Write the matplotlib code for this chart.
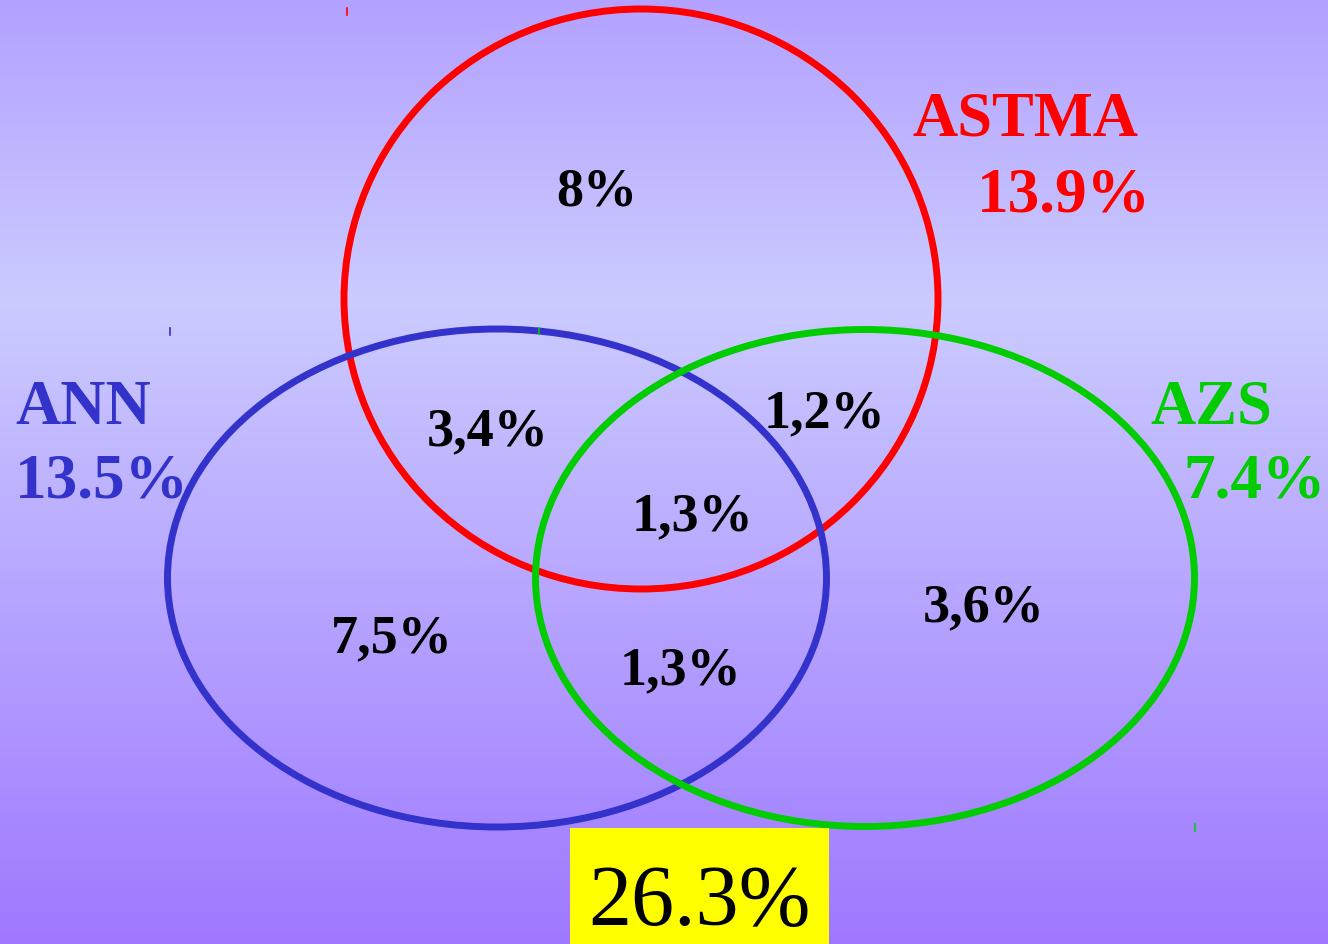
import numpy as np
import matplotlib.pyplot as plt
from matplotlib.patches import Ellipse, Rectangle
from matplotlib.colors import LinearSegmentedColormap

# sets: name, total share, colour
set_names = ["ASTMA", "ANN", "AZS"]
set_totals = ["13.9%", "13.5%", "7.4%"]
set_colors = ["#ff0000", "#3333cc", "#00cc00"]

# region shares (Venn regions)
region_labels = ["8%", "3,4%", "1,2%", "1,3%", "7,5%", "1,3%", "3,6%"]
overall = "26.3%"

W, H = 1328, 945
fig = plt.figure(figsize=(W / 100, H / 100), dpi=100)
ax = fig.add_axes([0, 0, 1, 1])
ax.set_xlim(0, W)
ax.set_ylim(H, 0)
ax.axis("off")

# vertical gradient background
cmap = LinearSegmentedColormap.from_list(
    "bg", [(0.0, "#b3a1ff"), (0.32, "#cbcbff"), (1.0, "#9f78ff")])
grad = np.linspace(0, 1, 256).reshape(-1, 1)
ax.imshow(grad, cmap=cmap, extent=[0, W, H, 0], aspect="auto", zorder=0)

lw = 5
# circles (center x, center y, width, height)
shapes = [(641, 300, 594, 580), (497, 579, 659, 498), (865, 579, 659, 497)]
for (cx, cy, w, h), col in zip(shapes, set_colors):
    ax.add_patch(Ellipse((cx, cy), w, h, fill=False, ec=col, lw=lw, zorder=2))

# stray tick marks seen in the original
for x, y0, y1, col in [(347, 9, 16, "#ff0000"), (170, 329, 336, "#3333cc"),
                       (539, 329, 335, "#00cc00"), (1195, 825, 832, "#00cc00")]:
    ax.plot([x, x], [y0, y1], color=col, lw=1.2, zorder=2)

serif = "Liberation Serif"
region_pos = [(597, 205), (488, 445), (825, 427), (693, 530),
              (392, 652), (681, 684), (984, 621)]
for lab, (x, y) in zip(region_labels, region_pos):
    ax.text(x, y, lab, ha="center", va="baseline", fontsize=39,
            fontweight="bold", family=serif, color="black", zorder=3)

name_pos = [(912, 136), (15, 424), (1150, 424)]
total_pos = [(977, 211), (15, 498), (1183, 498)]
for name, tot, col, (nx, ny), (tx, ty) in zip(set_names, set_totals, set_colors,
                                               name_pos, total_pos):
    ax.text(nx, ny, name, ha="left", va="baseline", fontsize=45,
            fontweight="bold", family=serif, color=col, zorder=3)
    ax.text(tx, ty, tot, ha="left", va="baseline", fontsize=45.5,
            fontweight="bold", family=serif, color=col, zorder=3)

ax.add_patch(Rectangle((570, 829), 259, 116, fc="#ffff00", ec="none", zorder=3))
ax.text(699, 925, overall, ha="center", va="baseline", fontsize=62,
        family=serif, color="black", zorder=4)

fig.savefig("out.png", dpi=100)
